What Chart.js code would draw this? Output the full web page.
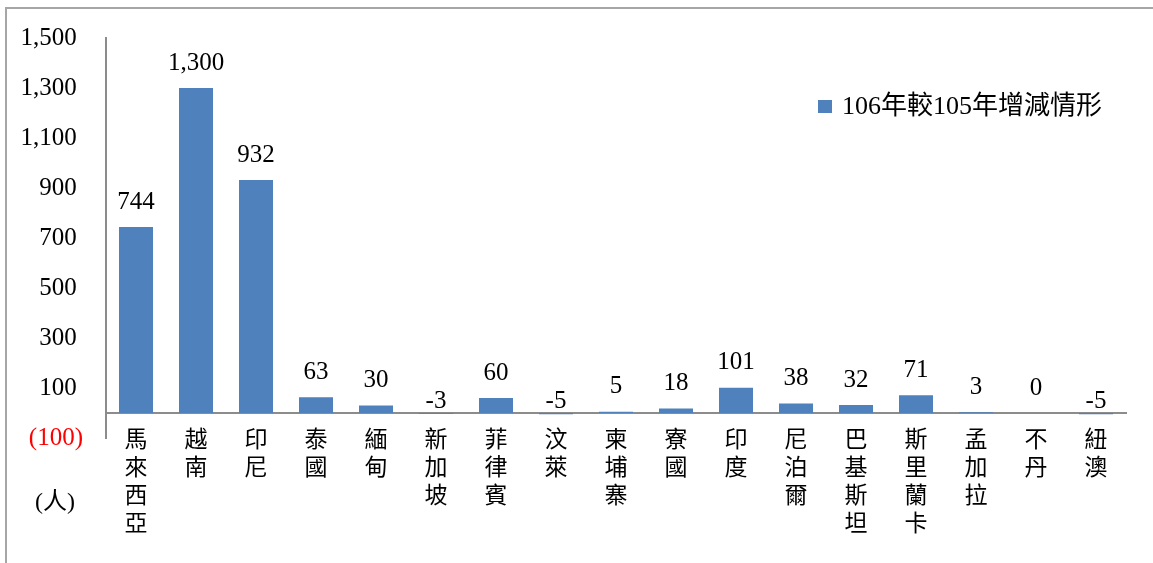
<!DOCTYPE html>
<html><head><meta charset="utf-8">
<script src="https://cdn.jsdelivr.net/npm/chart.js@4.4.0/dist/chart.umd.min.js"></script>
<style>
html,body{margin:0;padding:0;background:#fff;}
#wrap{position:relative;width:1153px;height:563px;overflow:hidden;}
#frame{position:absolute;left:5px;top:7px;width:1200px;height:600px;border-left:2px solid #a6a6a6;border-top:2px solid #a6a6a6;}
canvas{position:absolute;left:0;top:0;}
</style></head><body>
<div id="wrap"><div id="frame"></div><canvas id="c" width="1153" height="563"></canvas></div>
<script>
const categories = ['馬來西亞','越南','印尼','泰國','緬甸','新加坡','菲律賓','汶萊','柬埔寨','寮國','印度','尼泊爾','巴基斯坦','斯里蘭卡','孟加拉','不丹','紐澳'];
const values = [744, 1300, 932, 63, 30, -3, 60, -5, 5, 18, 101, 38, 32, 71, 3, 0, -5];
const seriesName = '106年較105年增減情形';
const yMin = -100, yMax = 1500, yStep = 200;
const unitLabel = '(人)';

const SERIF = "'Liberation Serif','Noto Sans CJK TC',serif";
const CJK = "'Noto Sans CJK TC',sans-serif";
const BLUE = '#4F81BD';
const AXIS = '#8c8c8c';

function fmt(v){
  const s = Math.abs(v).toLocaleString('en-US');
  return v < 0 ? '(' + s + ')' : s + ' ';
}

const dataLabels = {
  id:'dataLabels',
  afterDatasetsDraw(chart){
    const ctx = chart.ctx;
    const meta = chart.getDatasetMeta(0);
    const ys = chart.scales.y;
    const zero = ys.getPixelForValue(0);
    ctx.save();
    ctx.font = '25px ' + SERIF;
    ctx.fillStyle = '#000';
    ctx.textAlign = 'center';
    ctx.textBaseline = 'middle';
    meta.data.forEach((bar, i) => {
      const v = chart.data.datasets[0].data[i];
      const y = v >= 0 ? bar.y - 25 : zero - 12;
      ctx.fillText(v.toLocaleString('en-US'), bar.x, y);
    });
    ctx.restore();
  }
};

const legendAndUnit = {
  id:'legendAndUnit',
  afterDraw(chart){
    const ctx = chart.ctx;
    const area = chart.chartArea;
    ctx.save();
    // legend
    ctx.font = '26px ' + SERIF;
    ctx.textBaseline = 'middle';
    ctx.textAlign = 'left';
    const w = ctx.measureText(seriesName).width;
    const tx = area.right - 24 - w;
    const ty = area.top + 69;
    ctx.fillStyle = chart.data.datasets[0].backgroundColor;
    ctx.fillRect(tx - 24, ty - 7, 14, 13);
    ctx.fillStyle = '#000';
    ctx.fillText(seriesName, tx, ty);
    // unit label
    ctx.font = '24px ' + SERIF;
    ctx.textAlign = 'center';
    ctx.fillText(unitLabel, 55, 503);
    ctx.restore();
  }
};

new Chart(document.getElementById('c'), {
  type:'bar',
  data:{
    labels: categories.map(s => s.split('')),
    datasets:[{
      label: seriesName,
      data: values,
      backgroundColor: BLUE,
      borderWidth: 0,
      categoryPercentage: 1,
      barPercentage: 0.567
    }]
  },
  options:{
    responsive:false,
    animation:false,
    devicePixelRatio:1,
    layout:{padding:{left:20,right:27,top:38,bottom:125}},
    plugins:{
      legend:{display:false},
      tooltip:{enabled:false}
    },
    scales:{
      x:{
        position:{y:0},
        grid:{display:false,drawTicks:false},
        border:{display:true,color:AXIS,width:2},
        ticks:{padding:11,color:'#000',autoSkip:false,maxRotation:0,font:{family:CJK,size:23,lineHeight:1.22}}
      },
      y:{
        min:yMin, max:yMax,
        afterFit:(s)=>{ s.width = 86; },
        grid:{display:false,drawTicks:false},
        border:{display:true,color:AXIS,width:2},
        ticks:{
          stepSize:yStep,
          padding:23,
          callback:(v)=>fmt(v),
          color:(c)=> (c.tick && c.tick.value < 0) ? '#FF0000' : '#000',
          font:{family:SERIF,size:25}
        }
      }
    }
  },
  plugins:[dataLabels, legendAndUnit]
});
</script>
</body></html>
